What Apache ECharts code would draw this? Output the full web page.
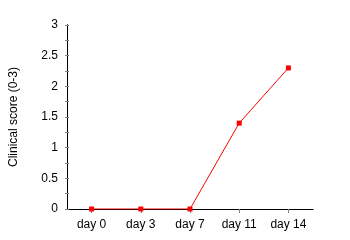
<!DOCTYPE html>
<html><head><meta charset="utf-8">
<script src="https://cdn.jsdelivr.net/npm/echarts@6/dist/echarts.min.js"></script>
<style>html,body{margin:0;padding:0;background:#fff}#c{width:350px;height:240px}</style>
</head><body><div id="c"></div>
<script>
const categories = ['day 0', 'day 3', 'day 7', 'day 11', 'day 14'];
const scores = [0, 0, 0, 1.4, 2.3];
const yAxisName = 'Clinical score (0-3)';
const yMin = 0, yMax = 3, yStep = 0.5;

const font = 'Liberation Sans, Arial, sans-serif';
const chart = echarts.init(document.getElementById('c'), null, {renderer: 'canvas'});
const baseY = {
  type: 'value', min: yMin, max: yMax, interval: yStep,
  splitLine: {show: false},
  axisLine: {show: true, lineStyle: {color: '#000', width: 1}},
};
chart.setOption({
  animation: false,
  grid: {left: 67, right: 37, top: 25, bottom: 31, containLabel: false},
  xAxis: {
    type: 'category', data: categories, boundaryGap: true,
    axisLine: {show: true, lineStyle: {color: '#000', width: 1}},
    axisTick: {show: true, alignWithLabel: true, length: 4, lineStyle: {color: '#808080'}},
    axisLabel: {color: '#000', fontSize: 12, fontFamily: font, margin: 10}
  },
  yAxis: [
    Object.assign({}, baseY, {
      name: yAxisName, nameLocation: 'middle', nameGap: 47, nameRotate: 90,
      nameTextStyle: {color: '#000', fontSize: 12, fontFamily: font},
      axisTick: {show: true, length: 2, lineStyle: {color: '#808080'}},
      minorTick: {show: true, splitNumber: 2, length: 2, lineStyle: {color: '#808080'}},
      axisLabel: {color: '#000', fontSize: 12, fontFamily: font, margin: 9}
    }),
    Object.assign({}, baseY, {
      position: 'left',
      axisTick: {show: true, inside: true, length: 2, lineStyle: {color: '#808080'}},
      minorTick: {show: true, splitNumber: 2, length: 2, lineStyle: {color: '#808080'}},
      axisLabel: {show: false}
    })
  ],
  series: [{
    type: 'line', data: scores, yAxisIndex: 0,
    symbol: 'rect', symbolSize: 5,
    lineStyle: {color: '#ff0000', width: 1},
    itemStyle: {color: '#ff0000'}
  }]
});
</script></body></html>
